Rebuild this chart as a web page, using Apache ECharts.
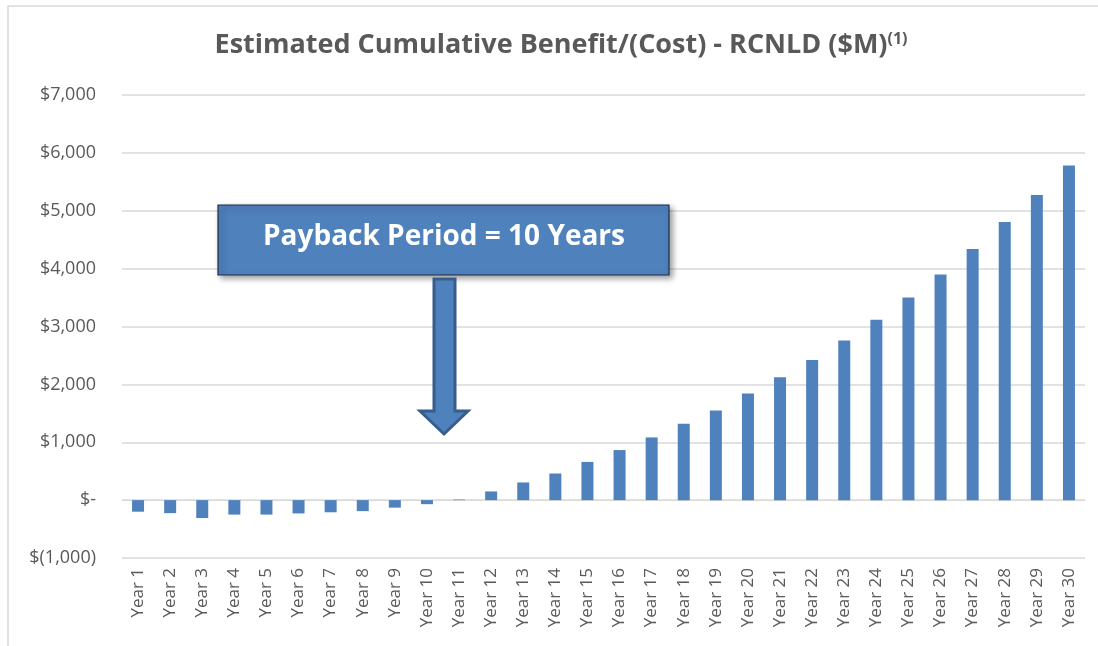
<!DOCTYPE html>
<html>
<head>
<meta charset="utf-8">
<script src="https://cdn.jsdelivr.net/npm/echarts@6/dist/echarts.min.js"></script>
<style>html,body{margin:0;padding:0;background:#fff;}#c{width:1098px;height:646px;}</style>
</head>
<body>
<div id="c"></div>
<script>
var categories = ['Year 1','Year 2','Year 3','Year 4','Year 5','Year 6','Year 7','Year 8','Year 9','Year 10',
  'Year 11','Year 12','Year 13','Year 14','Year 15','Year 16','Year 17','Year 18','Year 19','Year 20',
  'Year 21','Year 22','Year 23','Year 24','Year 25','Year 26','Year 27','Year 28','Year 29','Year 30'];
var cumulativeBenefit = [-200,-225,-310,-250,-250,-230,-210,-190,-130,-70,
  10,150,305,460,660,865,1083,1318,1550,1843,
  2121,2421,2760,3117,3503,3900,4338,4805,5271,5782];
var titleMain = 'Estimated Cumulative Benefit/(Cost) - RCNLD ($M)';
var titleSup = '(1)';
var annotationText = 'Payback Period = 10 Years';

function fmt(v){
  if (v === 0) return '$-';
  var s = Math.abs(v).toLocaleString('en-US');
  return v < 0 ? '$(' + s + ')' : '$' + s;
}

var chart = echarts.init(document.getElementById('c'));
var blue = '#4F81BD', dark = '#385D8A';
chart.setOption({
  animation: false,
  title: {
    text: '{m|' + titleMain + '}{s|' + titleSup + '}',
    left: 556, top: 26, textAlign: 'center',
    textStyle: {
      rich: {
        m: {fontFamily: 'Open Sans', fontWeight: 'bold', fontSize: 27, color: '#595959'},
        s: {fontFamily: 'Open Sans', fontWeight: 'bold', fontSize: 16, color: '#595959', verticalAlign: 'top', padding: [0,0,12,0]}
      }
    }
  },
  grid: {left: 122, right: 13, top: 95, bottom: 88},
  xAxis: {
    type: 'category', data: categories,
    axisLine: {show: true, lineStyle: {color: '#d9d9d9'}},
    axisTick: {show: false},
    axisLabel: {rotate: 90, color: '#595959', fontFamily: 'Open Sans', fontSize: 17, margin: 10, interval: 0}
  },
  yAxis: {
    type: 'value', min: -1000, max: 7000, interval: 1000,
    axisLine: {show: false}, axisTick: {show: false},
    axisLabel: {formatter: fmt, color: '#595959', fontFamily: 'Open Sans', fontSize: 18, margin: 26},
    splitLine: {lineStyle: {color: '#d9d9d9', width: 1.5}}
  },
  series: [{
    type: 'bar', data: cumulativeBenefit, barWidth: 12,
    itemStyle: {color: blue}
  }],
  graphic: [
    {type: 'rect', shape: {x: 8, y: 6, width: 1100, height: 650}, style: {fill: null, stroke: '#d9d9d9', lineWidth: 1.5}, silent: true, z: 0},
    {type: 'rect', shape: {x: 218, y: 205, width: 451, height: 70},
      style: {fill: blue, stroke: '#1f2f45', lineWidth: 1.2, shadowBlur: 6, shadowOffsetX: 3, shadowOffsetY: 3, shadowColor: 'rgba(0,0,0,0.4)'}, z: 10},
    {type: 'text', x: 444, y: 237, z: 11,
      style: {text: annotationText, fill: '#fff', font: 'bold 28px "Open Sans"', textAlign: 'center', textVerticalAlign: 'middle'}},
    {type: 'polygon', z: 10,
      shape: {points: [[434,279],[455,279],[455,411],[468,411],[444,434],[420,411],[434,411]]},
      style: {fill: blue, stroke: dark, lineWidth: 3}}
  ]
});
</script>
</body>
</html>
